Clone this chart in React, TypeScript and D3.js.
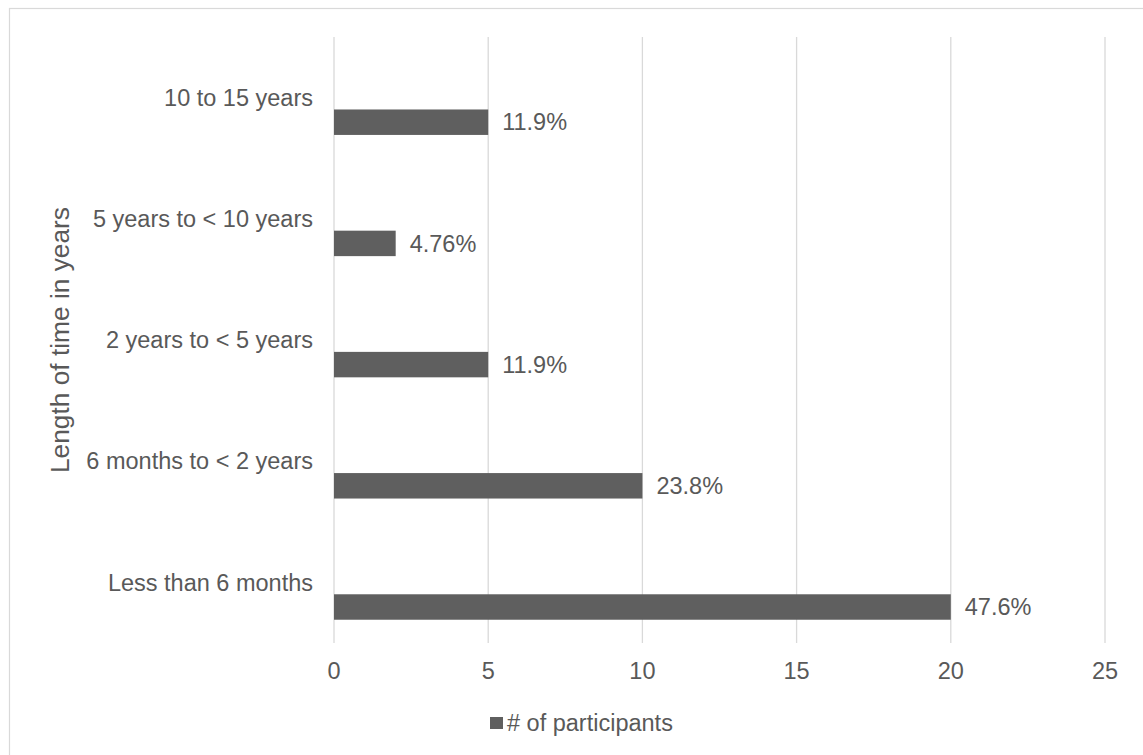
import React from "react";
import * as d3 from "d3";

// Time-in-role categories, top to bottom
const categories = [
  "10 to 15 years",
  "5 years to < 10 years",
  "2 years to < 5 years",
  "6 months to < 2 years",
  "Less than 6 months",
];
// Number of participants per category
const participants = [5, 2, 5, 10, 20];
const xTicks = [0, 5, 10, 15, 20, 25];
const seriesName = "# of participants";
const axisTitle = "Length of time in years";

const W = 1143;
const H = 755;
const FONT = "'Liberation Sans', Arial, sans-serif";
const TEXT = "#595959";
const GRID = "#d9d9d9";
const BAR = "#5f5f5f";

export default function App() {
  const x = d3.scaleLinear().domain([0, 25]).range([334, 1105]);
  const y = d3.scaleBand<string>().domain(categories).range([37, 643]).padding(0);
  const bw = y.bandwidth();
  const total = d3.sum(participants);
  const pct = d3.format(".3~r");

  return (
    <svg
      width={W}
      height={H}
      style={{ position: "fixed", left: 0, top: 0, background: "#fff" }}
      fontFamily={FONT}
    >
      <rect x={0} y={0} width={W} height={H} fill="#fff" />
      {/* chart frame */}
      <rect x={9.5} y={8.5} width={W + 20} height={H + 20} fill="none" stroke={GRID} strokeWidth={1.2} />

      {/* vertical gridlines */}
      {xTicks.map((t) => (
        <line key={t} x1={x(t)} x2={x(t)} y1={37} y2={643} stroke={GRID} strokeWidth={1.3} />
      ))}

      {/* bars */}
      {categories.map((c, i) => (
        <rect
          key={c}
          x={x(0)}
          y={(y(c) as number) + bw * 0.598}
          width={x(participants[i]) - x(0)}
          height={bw * 0.21}
          fill={BAR}
        />
      ))}

      {/* value labels */}
      {categories.map((c, i) => (
        <text
          key={c}
          x={x(participants[i]) + 14}
          y={(y(c) as number) + bw * 0.703}
          dy="0.35em"
          fontSize={23.5}
          fill={TEXT}
        >
          {pct((participants[i] / total) * 100) + "%"}
        </text>
      ))}

      {/* category labels */}
      {categories.map((c) => (
        <text
          key={c}
          x={313}
          y={(y(c) as number) + bw / 2}
          dy="0.35em"
          textAnchor="end"
          fontSize={23.5}
          fill={TEXT}
        >
          {c}
        </text>
      ))}

      {/* x tick labels */}
      {xTicks.map((t) => (
        <text key={t} x={x(t)} y={679} textAnchor="middle" fontSize={23.5} fill={TEXT}>
          {t}
        </text>
      ))}

      {/* axis title */}
      <text
        transform="translate(69,340) rotate(-90)"
        textAnchor="middle"
        fontSize={26.3}
        fill={TEXT}
      >
        {axisTitle}
      </text>

      {/* legend */}
      <rect x={490} y={717} width={13} height={12} fill={BAR} />
      <text x={507} y={723} dy="0.35em" fontSize={23.5} fill={TEXT}>
        {seriesName}
      </text>
    </svg>
  );
}
